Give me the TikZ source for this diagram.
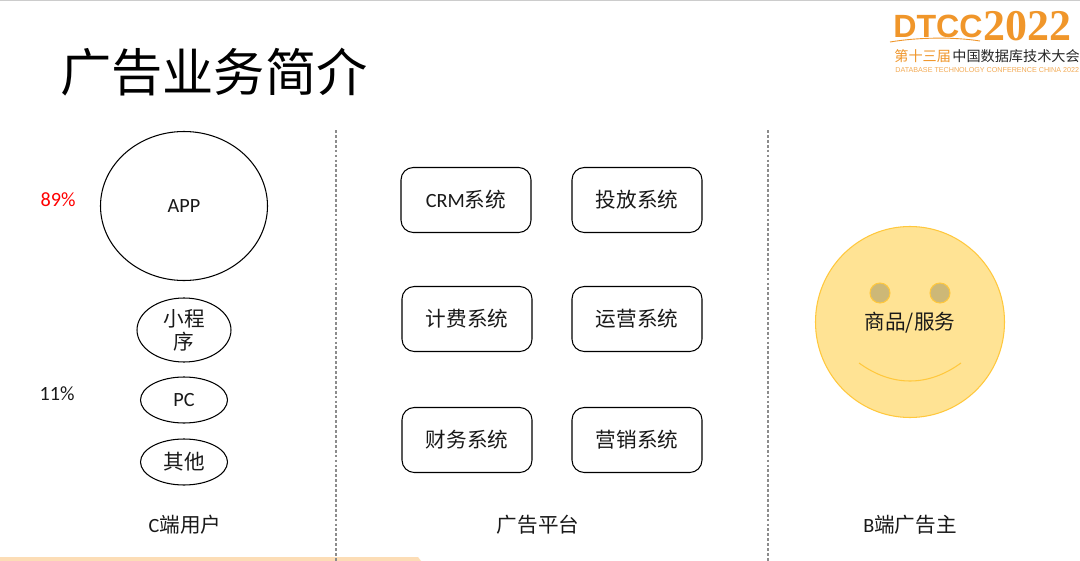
\documentclass[tikz,border=0pt]{standalone}
\usepackage{fontspec}
\usetikzlibrary{shapes.geometric}
\setmainfont{Carlito}
\newfontfamily\cjk{Noto Sans CJK SC}[Scale=1.02]
\newfontfamily\logofont{Liberation Sans}
\newfontfamily\yearfont{Liberation Serif}
\definecolor{logoorange}{HTML}{F0962A}
\definecolor{smileface}{HTML}{FFE394}
\definecolor{smileline}{HTML}{FFC83D}
\definecolor{smileeye}{HTML}{CDB877}
\definecolor{stripcolor}{HTML}{FCDDB6}
\begin{document}
\begin{tikzpicture}[x=0.02cm,y=-0.02cm]
	\tikzset{
		txt/.style={font=\fontsize{11.5}{13}\selectfont, text=black!90, inner sep=0pt, align=center},
		entry/.style={txt, draw=black, line width=0.6pt, ellipse},
		sysbox/.style={txt, draw=black, line width=0.6pt, rounded corners=7pt, minimum width=130*0.02cm, minimum height=65*0.02cm},
		divider/.style={dash pattern=on 1.6pt off 1.2pt, draw=black!45, line width=0.6pt},
		eye/.style={draw=smileline, fill=smileeye, line width=0.6pt, circle, minimum size=20*0.02cm, inner sep=0pt},
		logotxt/.style={inner sep=0pt, anchor=west},
	}
	\useasboundingbox (0,0) rectangle (1080,561);
	\fill[white] (0,0) rectangle (1080,561);
	\fill[black!20] (0,0) rectangle (1080,1);
	\fill[stripcolor] (0,557) -- (418,557) -- (421,561) -- (0,561) -- cycle;
	% title and logo
	\node[font=\fontsize{28.6}{32}\selectfont, inner sep=0pt] (title) at (214,72) {\cjk 广告业务简介};
	\node[logotxt, font=\fontsize{18.3}{20}\bfseries\logofont, text=logoorange] (logoname) at (893,26) {DTCC};
	\node[logotxt, font=\fontsize{25}{27}\bfseries\yearfont, text=logoorange] (logoyear) at (983,26) {2022};
	\node[logotxt, font=\fontsize{7.9}{9}\selectfont, text=logoorange] (logoorder) at (894,56) {\cjk 第十三届};
	\node[logotxt, font=\fontsize{7.9}{9}\selectfont, text=black!85] (logoconf) at (952,56) {\cjk 中国数据库技术大会};
	\node[logotxt, font=\fontsize{4.08}{5}\logofont, text=logoorange!80] (logoen) at (895,70) {DATABASE  TECHNOLOGY  CONFERENCE CHINA 2022};
	\draw[logoorange, line width=0.5pt] (890,42) .. controls (920,37) and (955,37) .. (980,41);
	% dividers
	\draw[divider] (336,130) -- (336,561);
	\draw[divider] (768,130) -- (768,561);
	% left column
	\node[entry, minimum width=167*0.02cm, minimum height=149*0.02cm] (app) at (184,206) {APP};
	\node[entry, minimum width=94*0.02cm, minimum height=64*0.02cm] (mini) at (184,330) {\cjk 小程\\\cjk 序};
	\node[entry, minimum width=87*0.02cm, minimum height=46*0.02cm] (pc) at (184,400) {PC};
	\node[entry, minimum width=87*0.02cm, minimum height=46*0.02cm] (other) at (184,462) {\cjk 其他};
	\node[txt, text=red] (appshare) at (58,200) {89\%};
	\node[txt] (othershare) at (57,394) {11\%};
	% platform boxes
	\foreach \name/\boxx/\boxy/\boxtext in {crm/466/200/CRM{\cjk 系统}, deliver/637/200/{\cjk 投放系统}, billing/467/319/{\cjk 计费系统}, operate/637/319/{\cjk 运营系统}, finance/467/440/{\cjk 财务系统}, market/637/440/{\cjk 营销系统}} {
		\node[sysbox] (\name) at (\boxx,\boxy) {\boxtext};
	}
	% smiley
	\node[draw=smileline, fill=smileface, line width=0.6pt, ellipse, minimum width=189*0.02cm, minimum height=191*0.02cm, inner sep=0pt] (face) at (910,322) {};
	\node[eye] (lefteye) at (880,293) {};
	\node[eye] (righteye) at (940,293) {};
	\node[txt] (goods) at (910,323) {\cjk 商品/服务};
	\draw[smileline, line width=0.6pt] (859,363) .. controls (892,387) and (928,387) .. (961,363);
	% column captions
	\node[txt] (users) at (185,525) {C{\cjk 端用户}};
	\node[txt] (platform) at (538,525) {\cjk 广告平台};
	\node[txt] (advertiser) at (910,525) {B{\cjk 端广告主}};
\end{tikzpicture}
\end{document}
